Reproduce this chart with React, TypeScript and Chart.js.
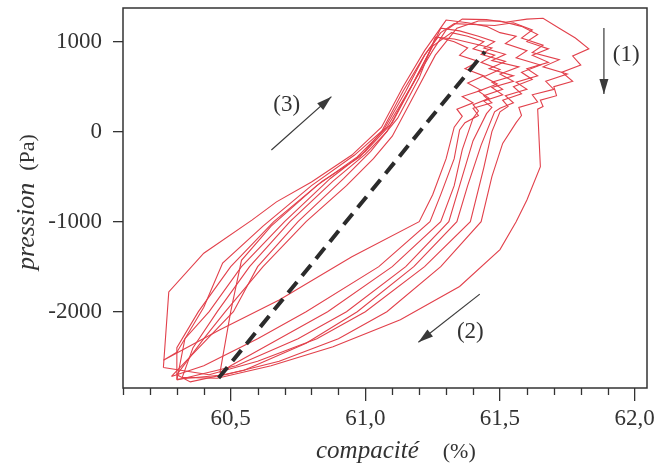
import { useEffect, useRef } from "react";
import { Chart, registerables } from "chart.js";

Chart.register(...registerables);

type P = [number, number];

// ---- axis ticks ----
const xMajorTicks = [60.5, 61.0, 61.5, 62.0];
const xMinorTicks = [60.1, 60.2, 60.3, 60.4, 60.6, 60.7, 60.8, 60.9, 61.1, 61.2, 61.3, 61.4, 61.6, 61.7, 61.8, 61.9];
const yTicks = [-2000, -1000, 0, 1000];

// ---- hysteresis loops (compacité %, pression Pa) ----
const loop1: P[] = [
  [60.32, -2730], [60.36, -2400], [60.45, -2000], [60.57, -1500], [60.72, -1000], [60.88, -550], [61.0, -250], [61.08, 0],
  [61.16, 450], [61.25, 900], [61.3, 1130], [61.36, 1250],
  [61.45, 1245], [61.52, 1215], [61.6, 1250], [61.66, 1260], [61.72, 1150], [61.78, 1040], [61.83, 920], [61.77, 840],
  [61.8, 740], [61.73, 660], [61.77, 560], [61.7, 500], [61.71, 400], [61.65, 350], [61.66, 280], [61.64, 250],
  [61.65, -390], [61.6, -760], [61.56, -1000], [61.5, -1310], [61.35, -1720], [61.13, -2090], [60.88, -2390],
  [60.65, -2600], [60.45, -2740], [60.32, -2730],
];
const loop2: P[] = [
  [60.3, -2750], [60.3, -2400], [60.38, -2000], [60.5, -1500], [60.66, -1000], [60.84, -550], [60.98, -280], [61.06, 0],
  [61.14, 450], [61.22, 850], [61.28, 1100], [61.33, 1200],
  [61.4, 1190], [61.48, 1180], [61.55, 1210], [61.62, 1130], [61.58, 1040], [61.66, 960], [61.62, 880], [61.72, 800],
  [61.66, 720], [61.75, 640], [61.67, 560], [61.7, 470], [61.62, 410], [61.64, 330], [61.57, 270], [61.58, 180], [61.56, 100],
  [61.51, -130], [61.47, -500], [61.43, -1000], [61.28, -1500], [61.08, -2000], [60.9, -2300], [60.68, -2550],
  [60.48, -2700], [60.3, -2750],
];
const loop3: P[] = [
  [60.25, -2620], [60.27, -1780], [60.4, -1350], [60.58, -980], [60.67, -780], [60.8, -560], [60.95, -260], [61.06, 50],
  [61.14, 500], [61.22, 900], [61.3, 1240],
  [61.38, 1210], [61.45, 1170], [61.5, 1100], [61.56, 1060], [61.52, 980], [61.6, 900], [61.56, 820], [61.65, 740],
  [61.58, 660], [61.62, 580], [61.55, 500], [61.58, 420], [61.51, 350], [61.53, 280], [61.5, 220],
  [61.47, 0], [61.44, -400], [61.39, -1000], [61.22, -1500], [61.0, -2000], [60.82, -2300], [60.6, -2550],
  [60.42, -2700], [60.25, -2620],
];
const loop4: P[] = [
  [60.3, -2760], [60.33, -2300], [60.42, -2000], [60.54, -1500], [60.7, -1000], [60.87, -520], [61.0, -220], [61.1, 100],
  [61.18, 550], [61.24, 900], [61.28, 1150],
  [61.35, 1120], [61.42, 1060], [61.48, 1000], [61.44, 930], [61.52, 860], [61.47, 790], [61.57, 720], [61.5, 640],
  [61.55, 560], [61.47, 490], [61.51, 410], [61.44, 340], [61.47, 270], [61.45, 200],
  [61.4, -100], [61.36, -500], [61.31, -1000], [61.15, -1500], [60.93, -2000], [60.75, -2300], [60.52, -2600], [60.3, -2760],
];
const loop5: P[] = [
  [60.46, -2680], [60.5, -2000], [60.54, -1430], [60.65, -1050], [60.82, -600], [60.97, -280], [61.08, 50], [61.17, 500],
  [61.25, 950], [61.32, 1100],
  [61.38, 1060], [61.44, 1000], [61.4, 920], [61.48, 850], [61.43, 770], [61.5, 690], [61.44, 610], [61.49, 530],
  [61.42, 450], [61.46, 370], [61.4, 300], [61.42, 230], [61.4, 150],
  [61.36, -200], [61.33, -600], [61.28, -1000], [61.1, -1500], [60.86, -2000], [60.65, -2350], [60.5, -2600], [60.46, -2680],
];
const loop6: P[] = [
  [60.28, -2720], [60.35, -2500], [60.51, -2000], [60.6, -1500], [60.75, -1000], [60.92, -520], [61.02, -220], [61.12, 150],
  [61.2, 600], [61.26, 1050],
  [61.33, 1030], [61.4, 980], [61.47, 930], [61.43, 860], [61.52, 780], [61.46, 700], [61.55, 620], [61.47, 550],
  [61.51, 470], [61.44, 400], [61.47, 320], [61.4, 260], [61.42, 180], [61.37, 100], [61.35, 20],
  [61.33, -300], [61.28, -700], [61.24, -1000], [61.05, -1500], [60.78, -2000], [60.6, -2300], [60.4, -2600], [60.28, -2720],
];
const loop7: P[] = [
  [60.25, -2540], [60.3, -2450], [60.4, -1950], [60.47, -1460], [60.62, -1050], [60.8, -600], [60.96, -260], [61.07, 30],
  [61.15, 450], [61.22, 850], [61.27, 1050],
  [61.33, 1000], [61.38, 930], [61.35, 850], [61.42, 780], [61.37, 700], [61.44, 620], [61.38, 540], [61.43, 460],
  [61.36, 390], [61.4, 320], [61.34, 250], [61.36, 170], [61.33, 50],
  [61.3, -300], [61.25, -700], [61.2, -1000], [60.95, -1390], [60.68, -1870], [60.46, -2200], [60.25, -2540],
];
const loop8: P[] = [
  [60.3, -2700], [60.4, -2300], [60.48, -2000], [60.62, -1500], [60.78, -1000], [60.93, -600], [61.03, -300], [61.1, -50],
  [61.18, 400], [61.26, 850], [61.34, 1150],
  [61.42, 1230], [61.5, 1230], [61.58, 1170], [61.64, 1080], [61.6, 1000], [61.68, 920], [61.62, 850], [61.68, 770],
  [61.6, 700], [61.64, 620], [61.56, 550], [61.6, 470], [61.52, 400], [61.55, 320], [61.5, 260], [61.48, 220],
  [61.43, -150], [61.38, -600], [61.34, -1000], [61.18, -1500], [60.97, -2000], [60.78, -2350], [60.55, -2650],
  [60.35, -2780], [60.3, -2700],
];
const loops = [loop1, loop2, loop3, loop4, loop5, loop6, loop7, loop8];

// ---- dashed mean line and arrows ----
const dashedLine: P[] = [[60.455, -2737], [61.444, 889]];
const arrow1: P[] = [[61.886, 1152], [61.886, 419]];
const arrow2: P[] = [[61.425, -1805], [61.197, -2339]];
const arrow3: P[] = [[60.651, -203], [60.874, 389]];
const arrows = [arrow1, arrow2, arrow3];
const arrowLabels = [
  { text: "(1)", x: 61.969, y: 852 },
  { text: "(2)", x: 61.39, y: -2225 },
  { text: "(3)", x: 60.708, y: 296 },
];

const xTitleItalic = "compacité";
const xTitleUnit = "(%)";
const yTitleItalic = "pression";
const yTitleUnit = "(Pa)";

const SERIF = '"Liberation Serif", "DejaVu Serif", "Times New Roman", serif';
const RED = "#e2404b";
const INK = "#333333";

const decor = {
  id: "decor",
  afterDatasetsDraw(chart: any) {
    const { ctx, scales } = chart;
    const xs = scales.x;
    const ys = scales.y;
    ctx.save();
    // arrowheads
    ctx.fillStyle = "#3a3a3a";
    for (const arr of arrows) {
      const p0 = arr[arr.length - 2];
      const p1 = arr[arr.length - 1];
      const x0 = xs.getPixelForValue(p0[0]);
      const y0 = ys.getPixelForValue(p0[1]);
      const x1 = xs.getPixelForValue(p1[0]);
      const y1 = ys.getPixelForValue(p1[1]);
      const ang = Math.atan2(y1 - y0, x1 - x0);
      const L = 15;
      const W = 4.5;
      const bx = x1 - L * Math.cos(ang);
      const by = y1 - L * Math.sin(ang);
      ctx.beginPath();
      ctx.moveTo(x1, y1);
      ctx.lineTo(bx + W * Math.sin(ang), by - W * Math.cos(ang));
      ctx.lineTo(bx - W * Math.sin(ang), by + W * Math.cos(ang));
      ctx.closePath();
      ctx.fill();
    }
    // arrow labels
    ctx.fillStyle = INK;
    ctx.font = `23px ${SERIF}`;
    ctx.textAlign = "center";
    ctx.textBaseline = "middle";
    for (const l of arrowLabels) {
      ctx.fillText(l.text, xs.getPixelForValue(l.x), ys.getPixelForValue(l.y));
    }
    ctx.restore();
  },
  afterDraw(chart: any) {
    const { ctx, chartArea: a, scales } = chart;
    const xs = scales.x;
    ctx.save();
    // frame
    ctx.strokeStyle = INK;
    ctx.lineWidth = 1.5;
    ctx.strokeRect(a.left, a.top, a.right - a.left, a.bottom - a.top);
    // minor ticks
    ctx.lineWidth = 1.3;
    ctx.beginPath();
    for (const v of xMinorTicks) {
      const px = Math.round(xs.getPixelForValue(v)) + 0.5;
      ctx.moveTo(px, a.bottom);
      ctx.lineTo(px, a.bottom + 7);
    }
    ctx.stroke();
    // x title
    ctx.fillStyle = INK;
    ctx.textBaseline = "alphabetic";
    ctx.textAlign = "left";
    ctx.font = `italic 25px ${SERIF}`;
    const sx = a.left + 193;
    const by = a.bottom + 70;
    ctx.fillText(xTitleItalic, sx, by);
    const w1 = ctx.measureText(xTitleItalic).width;
    ctx.font = `22px ${SERIF}`;
    ctx.fillText(xTitleUnit, sx + w1 + 24, by);
    // y title
    ctx.translate(34, 270);
    ctx.rotate(-Math.PI / 2);
    ctx.font = `italic 26px ${SERIF}`;
    ctx.fillText(yTitleItalic, 0, 0);
    const w2 = ctx.measureText(yTitleItalic).width;
    ctx.font = `22px ${SERIF}`;
    ctx.fillText(yTitleUnit, w2 + 12, 0);
    ctx.restore();
  },
};

export default function App() {
  const ref = useRef<HTMLCanvasElement>(null);
  useEffect(() => {
    const canvas = ref.current;
    if (!canvas) return;
    const toPts = (arr: P[]) => arr.map(([x, y]) => ({ x, y }));
    const base = { showLine: true, pointRadius: 0, pointHoverRadius: 0, fill: false, tension: 0 };
    const datasets: any[] = [
      { ...base, data: toPts(dashedLine), borderColor: "#2b2b2b", borderWidth: 4, borderDash: [14, 8] },
      ...arrows.map((a) => ({ ...base, data: toPts(a), borderColor: "#3a3a3a", borderWidth: 1.2 })),
      ...loops.map((l) => ({ ...base, data: toPts(l), borderColor: RED, borderWidth: 1.1 })),
    ];
    const chart = new Chart(canvas, {
      type: "scatter",
      data: { datasets },
      options: {
        animation: false,
        responsive: false,
        devicePixelRatio: 1,
        layout: { padding: { top: 8, right: 20, left: 0, bottom: 0 } },
        plugins: { legend: { display: false }, tooltip: { enabled: false } },
        scales: {
          x: {
            type: "linear",
            min: 60.1,
            max: 62.046,
            afterBuildTicks: (s: any) => {
              s.ticks = xMajorTicks.map((v) => ({ value: v }));
            },
            afterFit: (s: any) => {
              s.height = 78;
              s.paddingLeft = 0;
              s.paddingRight = 0;
            },
            ticks: {
              callback: (v: any) => Number(v).toFixed(1).replace(".", ","),
              font: { family: SERIF, size: 23 },
              color: INK,
              padding: 4,
              maxRotation: 0,
              autoSkip: false,
            },
            grid: { drawOnChartArea: false, drawTicks: true, tickLength: 13, color: INK, lineWidth: 1.3 },
            border: { display: false },
          },
          y: {
            type: "linear",
            min: -2848,
            max: 1374,
            afterBuildTicks: (s: any) => {
              s.ticks = yTicks.map((v) => ({ value: v }));
            },
            afterFit: (s: any) => {
              s.width = 123;
              s.paddingTop = 0;
              s.paddingBottom = 0;
            },
            ticks: {
              callback: (v: any) => String(v),
              font: { family: SERIF, size: 23 },
              color: INK,
              padding: 11,
              autoSkip: false,
            },
            grid: { drawOnChartArea: false, drawTicks: true, tickLength: 10, color: INK, lineWidth: 1.3 },
            border: { display: false },
          },
        },
      },
      plugins: [decor],
    });
    return () => chart.destroy();
  }, []);
  return (
    <div style={{ position: "fixed", left: 0, top: 0, width: 667, height: 466, background: "#fff" }}>
      <canvas ref={ref} width={667} height={466} style={{ width: 667, height: 466, display: "block" }} />
    </div>
  );
}
